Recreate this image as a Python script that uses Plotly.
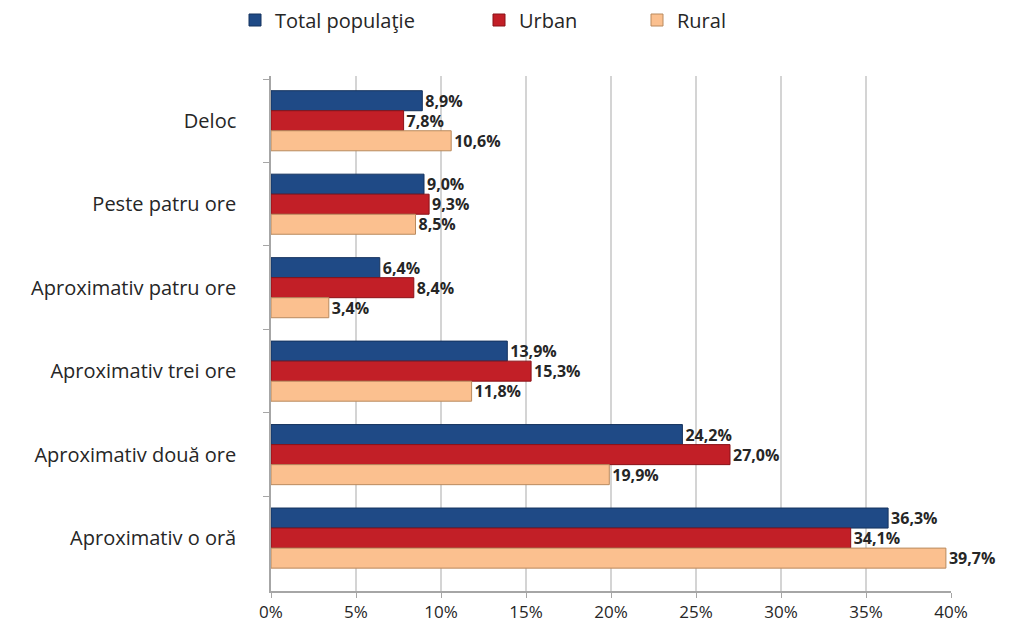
import plotly.graph_objects as go

categories = ["Deloc", "Peste patru ore", "Aproximativ patru ore",
              "Aproximativ trei ore", "Aproximativ două ore", "Aproximativ o oră"]
total = [8.9, 9.0, 6.4, 13.9, 24.2, 36.3]
urban = [7.8, 9.3, 8.4, 15.3, 27.0, 34.1]
rural = [10.6, 8.5, 3.4, 11.8, 19.9, 39.7]
series_names = ["Total populaţie", "Urban", "Rural"]
tick_vals = [0, 5, 10, 15, 20, 25, 30, 35, 40]
tick_text = ["0%", "5%", "10%", "15%", "20%", "25%", "30%", "35%", "40%"]

colors = ["#1F4A86", "#C21F27", "#FBC08F"]
edge = ["#15335E", "#8A1218", "#B98A5E"]

def fmt(v):
    return f"{v:.1f}".replace(".", ",") + "%"

FONT = "Open Sans"

fig = go.Figure()
legends = ["legend", "legend2", "legend3"]
for name, vals, c, e, lg in zip(series_names, [total, urban, rural], colors, edge, legends):
    fig.add_trace(go.Bar(
        y=categories, x=vals, name=name, orientation="h",
        marker=dict(color=c, line=dict(color=e, width=1)),
        text=[fmt(v) for v in vals], textposition="outside",
        textfont=dict(family=FONT, size=16, color="#262626", weight="bold"),
        constraintext="none", cliponaxis=False, legend=lg, showlegend=True,
        hoverinfo="skip",
    ))

legend_font = dict(family=FONT, size=20, color="#262626")
common = dict(orientation="h", xref="container", yref="container",
              yanchor="middle", y=1 - 12 / 623, xanchor="left",
              font=legend_font, bgcolor="rgba(0,0,0,0)", visible=True)
fig.update_layout(
    width=1011, height=623,
    showlegend=True,
    margin=dict(l=263, r=68, t=68, b=40, autoexpand=False),
    paper_bgcolor="white", plot_bgcolor="white",
    barmode="group", bargap=0.28, bargroupgap=0,
    legend=dict(x=227 / 1011, **common),
    legend2=dict(x=471 / 1011, **common),
    legend3=dict(x=629 / 1011, **common),
    xaxis=dict(range=[0, 40], tickvals=tick_vals, ticktext=tick_text,
               showgrid=True, gridcolor="#D4D4D4", gridwidth=1.5,
               showline=True, linecolor="#A6A6A6", linewidth=1.5,
               ticks="outside", ticklen=5, tickcolor="#A6A6A6",
               tickfont=dict(family=FONT, size=17, color="#262626"),
               zeroline=False),
    yaxis=dict(range=[5.634, -0.536], showline=True, linecolor="#A6A6A6", linewidth=1.5,
               ticks="outside", ticklen=6, tickcolor="#A6A6A6", tickson="boundaries",
               tickfont=dict(family=FONT, size=20, color="#262626"),
               ticklabelstandoff=29),
)
fig.write_html("out.html")
